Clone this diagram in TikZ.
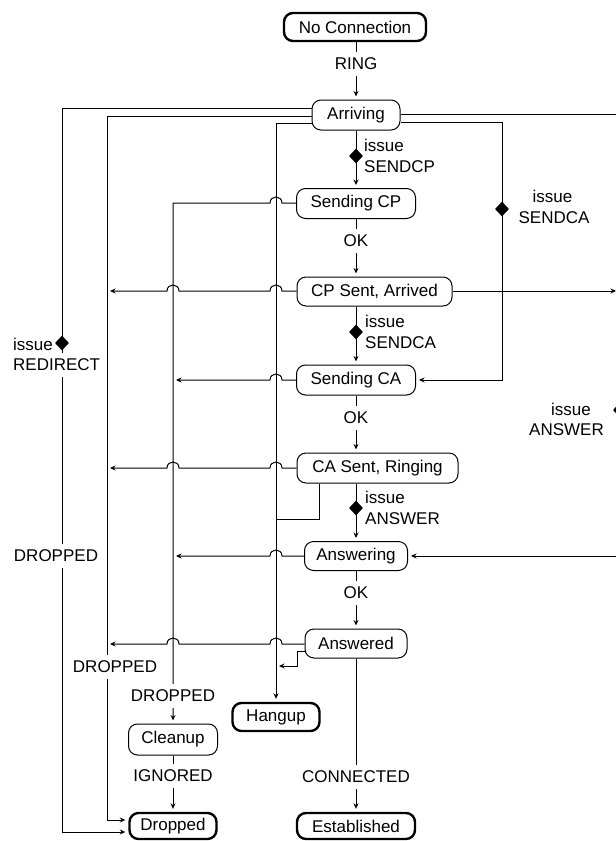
\documentclass[tikz,border=0pt]{standalone}
\usepackage{fontspec}
\setmainfont{Liberation Sans}
\usetikzlibrary{arrows.meta,shapes.geometric}
\begin{document}
\begin{tikzpicture}[x=1pt,y=-1pt,
  font=\fontsize{17}{20}\selectfont,
  stbox/.style={draw, rounded corners=9pt, line width=1pt, minimum height=30pt, inner sep=0pt},
  endstate/.style={stbox, line width=2.4pt},
  conn/.style={line width=1pt},
  flow/.style={conn, -{Stealth[length=5.5pt,width=5pt,inset=1.8pt]}, shorten >=3pt},
  lbl/.style={fill=white, inner xsep=2pt, inner ysep=6pt},
  txt/.style={inner sep=0pt},
  dia/.style={diamond, fill=black, inner sep=0pt, minimum width=14pt, minimum height=15pt},
]
\useasboundingbox (0,0) rectangle (616,841);
\clip (0,0) rectangle (616,841);

% states
\node[endstate, minimum width=142pt, minimum height=28pt] (nc) at (355,27) {No Connection};
\node[stbox, minimum width=88pt] (arriving) at (356,115) {Arriving};
\node[stbox, minimum width=119pt] (scp) at (356,203.5) {Sending CP};
\node[stbox, minimum width=155pt, minimum height=29pt] (cps) at (374.5,291.5) {CP Sent, Arrived};
\node[stbox, minimum width=119pt] (sca) at (356,380) {Sending CA};
\node[stbox, minimum width=161pt] (car) at (377.5,468) {CA Sent, Ringing};
\node[stbox, minimum width=103pt, minimum height=29pt] (ans) at (356,556) {Answering};
\node[stbox, minimum width=102pt, minimum height=29pt] (ansd) at (356,643.5) {Answered};
\node[endstate, minimum width=87pt, minimum height=28pt] (hang) at (276,717) {Hangup};
\node[stbox, minimum width=89pt, minimum height=31pt] (clean) at (173,739.5) {Cleanup};
\node[endstate, minimum width=87pt, minimum height=26pt] (drop) at (173,826) {Dropped};
\node[endstate, minimum width=118pt, minimum height=26pt] (est) at (356,826) {Established};

% main column
\draw[flow] (nc.south -| 356,0) -- (arriving.north);
\draw[flow] (arriving.south) -- (scp.north);
\draw[flow] (scp.south) -- (cps.north -| 356,0);
\draw[flow] (cps.south -| 356,0) -- (sca.north);
\draw[flow] (sca.south) -- (car.north -| 356,0);
\draw[flow] (car.south -| 356,0) -- (ans.north);
\draw[flow] (ans.south) -- (ansd.north);
\draw[flow] (ansd.south) -- (est.north);
\draw[flow] (clean.south) -- (drop.north);

% left long connectors
\draw[flow] (arriving.west |- 0,108) -- (62,108) -- (62,832) -- (drop.west |- 0,832);
\draw[flow] (arriving.west |- 0,116) -- (107,116) -- (107,820) -- (drop.west |- 0,820);
\draw[flow] (arriving.west |- 0,123) -- (276,123) -- (hang.north);
\draw[flow] (scp.west |- 0,203) -- (282,203) .. controls (282,195) and (270,195) .. (270,203) -- (173,203) -- (clean.north);

% horizontal connectors with hops
\draw[flow] (cps.west |- 0,291) -- (282,291) .. controls (282,283) and (270,283) .. (270,291)
  -- (179,291) .. controls (179,283) and (167,283) .. (167,291) -- (107,291);
\draw[flow] (sca.west |- 0,380) -- (282,380) .. controls (282,372) and (270,372) .. (270,380) -- (173,380);
\draw[flow] (car.west |- 0,468) -- (282,468) .. controls (282,460) and (270,460) .. (270,468)
  -- (179,468) .. controls (179,460) and (167,460) .. (167,468) -- (107,468);
\draw[flow] (ans.west |- 0,556) -- (282,556) .. controls (282,548) and (270,548) .. (270,556) -- (173,556);
\draw[flow] (ansd.west |- 0,644) -- (282,644) .. controls (282,636) and (270,636) .. (270,644)
  -- (179,644) .. controls (179,636) and (167,636) .. (167,644) -- (107,644);
\draw[flow] (ansd.west |- 0,651) -- (297,651) -- (297,666) -- (276,666);
\draw[conn] (car.south -| 319,0) -- (319,519) -- (276,519);

% right connectors
\draw[flow] (arriving.east |- 0,114) -- (619,114) -- (619,556) -- (ans.east |- 0,556);
\draw[flow] (cps.east |- 0,291) -- (619,291);
\draw[flow] (arriving.east |- 0,122) -- (502,122) -- (502,380) -- (sca.east |- 0,380);

% line labels
\node[lbl] (lring) at (356,64) {RING};
\node[lbl] (lok1) at (356,241) {OK};
\node[lbl] (lok2) at (356,418) {OK};
\node[lbl] (lok3) at (356,593) {OK};
\node[lbl] (lconn) at (356,777) {CONNECTED};
\node[lbl] (lign) at (173,776) {IGNORED};
\node[lbl] (ldrop1) at (56,556) {DROPPED};
\node[lbl] (ldrop2) at (115,667) {DROPPED};
\node[lbl] (ldrop3) at (173,696) {DROPPED};

% guards
\node[dia] (d1) at (62,343) {};
\node[txt, anchor=east] (t1a) at (53,344) {issue};
\node[lbl, anchor=west] (t1b) at (11,365) {REDIRECT};

\node[dia] (d2) at (356,156) {};
\node[txt, anchor=west] (t2a) at (364,145) {issue};
\node[txt, anchor=west] (t2b) at (364,167) {SENDCP};

\node[dia] (d3) at (356,332) {};
\node[txt, anchor=west] (t3a) at (365,321) {issue};
\node[txt, anchor=west] (t3b) at (365,343) {SENDCA};

\node[dia] (d4) at (356,508) {};
\node[txt, anchor=west] (t4a) at (365,497) {issue};
\node[txt, anchor=west] (t4b) at (365,519) {ANSWER};

\node[dia] (d5) at (502,209) {};
\node[txt] (t5a) at (552.5,196) {issue};
\node[txt] (t5b) at (554,218) {SENDCA};

\node[dia] (d6) at (620,410) {};
\node[txt] (t6a) at (571,409) {issue};
\node[txt] (t6b) at (566.5,430) {ANSWER};
\end{tikzpicture}
\end{document}
